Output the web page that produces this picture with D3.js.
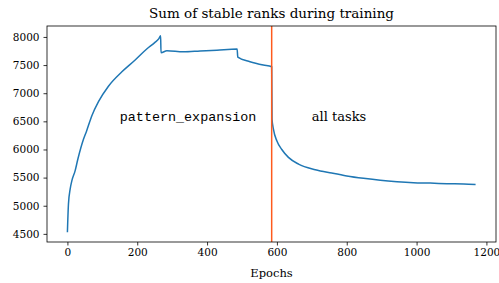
<!DOCTYPE html>
<html lang="en">
<head>
    <meta charset="UTF-8">
    <title>Sum of stable ranks during training</title>
    <script src="https://d3js.org/d3.v7.min.js"></script>
    <style>
        body {
            margin: 0;
            background: #ffffff;
            overflow: hidden;
        }
        svg text {
            font-family: 'DejaVu Serif', serif;
            fill: #000;
        }
        .mono {
            font-family: 'Liberation Mono', monospace;
        }
    </style>
</head>
<body>
    <div id="chart"></div>

    <script>
        // Values
        const epochs = [0, 3, 8, 13, 22, 30, 46, 55, 70, 89, 117, 156, 194, 228, 250, 262, 267,
                        268, 285, 332, 380, 428, 486, 488, 523, 561, 585,
                        586, 590, 600, 614, 633, 662, 710, 757, 800, 848, 896, 944, 991, 1039, 1087, 1135, 1169];
        const stableRankSum = [4530, 5030, 5300, 5450, 5620, 5830, 6180, 6330, 6600, 6850, 7120, 7380, 7590, 7790, 7900, 7970, 8020,
                               7720, 7755, 7735, 7750, 7765, 7785, 7640, 7560, 7500, 7470,
                               6540, 6360, 6150, 6000, 5860, 5740, 5640, 5580, 5530, 5487, 5452, 5427, 5410, 5402, 5392, 5387, 5378];
        const phaseSwitch = 585;
        const xTicks = [0, 200, 400, 600, 800, 1000, 1200];
        const yTicks = [4500, 5000, 5500, 6000, 6500, 7000, 7500, 8000];
        const phaseLabels = [
            { text: "pattern_expansion", epoch: 150, value: 6500, mono: true },
            { text: "all tasks", epoch: 700, value: 6500, mono: false }
        ];

        const width = 499, height = 283;
        const margin = { top: 26, right: 3, bottom: 41, left: 47 };
        const innerW = width - margin.left - margin.right;
        const innerH = height - margin.top - margin.bottom;

        const svg = d3.select("#chart").append("svg")
            .attr("width", width)
            .attr("height", height);

        // matplotlib-style 5% padding around data extent
        const xExt = d3.extent(epochs), yExt = d3.extent(stableRankSum);
        const xPad = (xExt[1] - xExt[0]) * 0.05, yPad = (yExt[1] - yExt[0]) * 0.05;

        const x = d3.scaleLinear()
            .domain([xExt[0] - xPad, xExt[1] + xPad])
            .range([margin.left, margin.left + innerW]);
        const y = d3.scaleLinear()
            .domain([yExt[0] - yPad, yExt[1] + yPad])
            .range([margin.top + innerH, margin.top]);

        // axes
        const xAxis = svg.append("g")
            .attr("transform", `translate(0,${margin.top + innerH})`)
            .call(d3.axisBottom(x).tickValues(xTicks).tickSize(3.5).tickPadding(3.5).tickFormat(d3.format("d")));
        const yAxis = svg.append("g")
            .attr("transform", `translate(${margin.left},0)`)
            .call(d3.axisLeft(y).tickValues(yTicks).tickSize(3.5).tickPadding(4).tickFormat(d3.format("d")));

        [xAxis, yAxis].forEach(a => {
            a.select(".domain").remove();
            a.selectAll("line").attr("stroke", "#000").attr("stroke-width", 0.8);
            a.selectAll("text").style("font-size", "10.5px").attr("fill", "#000");
        });

        // data line
        const line = d3.line()
            .x((d, i) => x(epochs[i]))
            .y(d => y(d))
            .curve(d3.curveMonotoneX);

        svg.append("path")
            .datum(stableRankSum)
            .attr("fill", "none")
            .attr("stroke", "#1f77b4")
            .attr("stroke-width", 1.5)
            .attr("stroke-linejoin", "round")
            .attr("d", line);

        // phase switch marker
        svg.append("line")
            .attr("x1", x(phaseSwitch)).attr("x2", x(phaseSwitch))
            .attr("y1", margin.top).attr("y2", margin.top + innerH)
            .attr("stroke", "#fe5a1d")
            .attr("stroke-width", 1.5);

        // phase labels
        svg.selectAll(".phase")
            .data(phaseLabels)
            .enter().append("text")
            .attr("class", d => d.mono ? "phase mono" : "phase")
            .attr("x", d => x(d.epoch))
            .attr("y", d => y(d.value))
            .style("font-size", d => d.mono ? "13.4px" : "13px")
            .text(d => d.text);

        // frame
        svg.append("rect")
            .attr("x", margin.left).attr("y", margin.top)
            .attr("width", innerW).attr("height", innerH)
            .attr("fill", "none")
            .attr("stroke", "#000")
            .attr("stroke-width", 0.8);

        // title and axis label
        svg.append("text")
            .attr("x", margin.left + innerW / 2)
            .attr("y", 18)
            .attr("text-anchor", "middle")
            .style("font-size", "13.5px")
            .text("Sum of stable ranks during training");

        svg.append("text")
            .attr("x", margin.left + innerW / 2)
            .attr("y", 277)
            .attr("text-anchor", "middle")
            .style("font-size", "11.5px")
            .text("Epochs");
    </script>
</body>
</html>
